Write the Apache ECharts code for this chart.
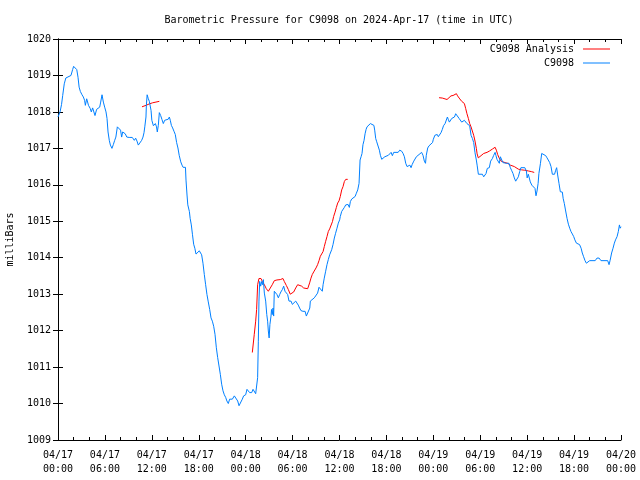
<!DOCTYPE html>
<html>
<head>
<meta charset="utf-8">
<script src="https://cdn.jsdelivr.net/npm/echarts@6/dist/echarts.min.js"></script>
<style>html,body{margin:0;padding:0;background:#fff}#c{width:640px;height:480px}</style>
</head>
<body>
<div id="c"></div>
<script>
// Hours since 2024-04-17 00:00 UTC
var stationHours = [0,0.26,0.45,0.6,0.8,1.0,1.2,1.66,1.87,2.0,2.2,2.4,2.56,2.7,2.86,3.07,3.24,3.4,3.5,3.67,3.8,3.9,4.13,4.26,4.43,4.56,4.73,4.94,5.16,5.33,5.46,5.63,5.8,5.97,6.14,6.27,6.4,6.56,6.7,6.9,7.07,7.25,7.4,7.59,7.84,8.0,8.14,8.27,8.44,8.6,8.8,9.1,9.5,9.76,9.93,10.1,10.27,10.5,10.7,10.87,11.0,11.1,11.25,11.3,11.4,11.55,11.68,11.85,11.9,12.0,12.2,12.32,12.45,12.6,12.7,12.83,12.96,13.13,13.3,13.47,13.64,13.8,14.1,14.24,14.36,14.5,14.66,14.83,15.0,15.17,15.34,15.5,15.7,15.86,16.0,16.3,16.37,16.5,16.6,16.8,16.9,17.05,17.2,17.35,17.5,17.65,17.9,18.07,18.24,18.37,18.54,18.71,18.88,19.05,19.2,19.4,19.57,19.74,19.91,20.08,20.25,20.42,20.59,20.76,20.93,21.1,21.27,21.44,21.6,21.78,21.95,22.3,22.55,22.8,22.98,23.15,23.4,23.57,23.74,24.0,24.17,24.34,24.51,24.77,24.94,25.1,25.28,25.45,25.53,25.62,25.7,25.79,25.92,26.05,26.17,26.26,26.39,26.56,26.7,26.81,26.9,27.0,27.1,27.24,27.3,27.4,27.5,27.58,27.66,27.84,28.0,28.18,28.35,28.5,28.7,28.86,29.03,29.2,29.37,29.54,29.8,29.97,30.18,30.4,30.56,30.73,30.9,31.07,31.33,31.6,31.76,32.0,32.2,32.27,32.5,32.78,33.0,33.2,33.38,33.6,33.8,33.9,34.05,34.23,34.4,34.57,34.74,34.9,35.0,35.17,35.34,35.5,35.68,35.85,36.02,36.1,36.28,36.45,36.62,36.8,36.96,37.1,37.26,37.39,37.56,37.8,38.0,38.16,38.33,38.5,38.63,38.76,38.88,39.0,39.14,39.27,39.4,39.52,39.7,39.95,40.2,40.4,40.5,40.63,40.76,40.97,41.1,41.23,41.4,41.65,41.8,42.0,42.25,42.4,42.6,42.76,42.93,43.5,43.7,43.83,43.96,44.13,44.3,44.47,44.64,44.8,45.0,45.15,45.3,45.5,45.66,45.83,46.0,46.17,46.34,46.5,46.68,46.85,47.0,47.1,47.28,47.45,47.7,47.9,48.0,48.2,48.5,48.64,48.8,48.98,49.15,49.3,49.5,49.67,49.8,49.9,50.05,50.2,50.35,50.52,50.7,50.86,51.0,51.1,51.3,51.46,51.63,51.8,51.97,52.14,52.3,52.48,52.65,52.82,53.0,53.16,53.33,53.5,53.6,53.76,54.27,54.44,54.57,54.74,54.9,55.16,55.33,55.55,55.7,55.9,56.0,56.14,56.3,56.44,56.57,56.74,56.9,57.08,57.34,57.5,57.68,57.85,58.0,58.19,58.36,58.53,58.7,58.87,59.04,59.2,59.7,59.9,60.0,60.15,60.28,60.4,60.6,60.83,61.0,61.13,61.26,61.4,61.5,61.7,61.86,62.0,62.1,62.37,62.54,62.7,62.88,63.05,63.22,63.5,63.65,63.77,63.9,64.07,64.24,64.5,64.6,64.75,64.9,65.1,65.27,65.44,65.6,65.78,65.95,66.1,66.3,66.55,66.7,66.9,67.05,67.2,67.4,67.57,67.7,67.8,68.0,68.7,68.93,69.2,69.44,70.3,70.47,70.6,70.8,70.98,71.15,71.3,71.5,71.66,71.8,71.9,72.0];
var stationPressure = [1017.86,1018.0,1018.2,1018.45,1018.77,1018.93,1018.98,1019.0,1019.16,1019.25,1019.25,1019.16,1018.95,1018.68,1018.56,1018.47,1018.41,1018.32,1018.18,1018.36,1018.41,1018.18,1018.09,1018.0,1018.11,1018.16,1017.9,1018.07,1018.1,1018.13,1018.27,1018.47,1018.27,1018.13,1018.0,1017.82,1017.45,1017.22,1017.09,1017.0,1017.1,1017.22,1017.31,1017.59,1017.6,1017.5,1017.31,1017.45,1017.47,1017.4,1017.31,1017.3,1017.3,1017.22,1017.28,1017.2,1017.09,1017.09,1017.22,1017.31,1017.43,1017.59,1017.86,1018.18,1018.47,1018.36,1018.29,1018.27,1018.04,1017.77,1017.62,1017.63,1017.68,1017.59,1017.45,1017.63,1017.98,1017.9,1017.79,1017.68,1017.77,1017.8,1017.8,1017.86,1017.77,1017.63,1017.56,1017.47,1017.38,1017.16,1017.01,1016.81,1016.63,1016.54,1016.48,1016.48,1016.13,1015.72,1015.45,1015.27,1015.08,1014.9,1014.63,1014.37,1014.26,1014.1,1014.1,1014.19,1014.19,1014.08,1013.85,1013.54,1013.26,1012.99,1012.81,1012.58,1012.35,1012.26,1012.12,1011.9,1011.53,1011.26,1011.03,1010.8,1010.53,1010.35,1010.24,1010.17,1010.07,1010.0,1010.12,1010.12,1010.21,1010.21,1010.07,1009.94,1009.94,1010.12,1010.21,1010.24,1010.39,1010.35,1010.3,1010.3,1010.39,1010.35,1010.27,1010.24,1010.71,1011.71,1012.81,1013.35,1013.22,1013.35,1013.26,1013.4,1013.03,1012.81,1012.44,1012.26,1011.99,1011.8,1012.17,1012.4,1012.58,1012.44,1012.62,1012.4,1013.08,1013.03,1012.99,1012.9,1012.99,1013.06,1013.13,1013.22,1013.08,1013.08,1012.99,1012.81,1012.81,1012.72,1012.72,1012.81,1012.76,1012.7,1012.62,1012.55,1012.53,1012.53,1012.4,1012.4,1012.62,1012.81,1012.83,1012.9,1012.92,1013.03,1013.19,1013.19,1013.08,1013.26,1013.44,1013.63,1013.81,1013.95,1014.08,1014.04,1014.22,1014.36,1014.54,1014.67,1014.81,1014.95,1015.04,1015.13,1015.27,1015.31,1015.38,1015.45,1015.49,1015.46,1015.38,1015.54,1015.61,1015.61,1015.68,1015.77,1015.86,1016.04,1016.68,1016.77,1016.86,1017.1,1017.22,1017.4,1017.52,1017.59,1017.63,1017.68,1017.68,1017.63,1017.5,1017.27,1017.18,1017.16,1016.95,1016.81,1016.7,1016.7,1016.77,1016.77,1016.81,1016.86,1016.89,1016.8,1016.89,1016.89,1016.95,1017.0,1016.92,1016.86,1016.77,1016.59,1016.5,1016.54,1016.54,1016.47,1016.56,1016.65,1016.7,1016.77,1016.8,1016.83,1016.86,1016.89,1016.81,1016.65,1016.59,1016.81,1017.01,1017.07,1017.09,1017.16,1017.25,1017.36,1017.38,1017.32,1017.32,1017.43,1017.52,1017.62,1017.68,1017.72,1017.86,1017.8,1017.72,1017.77,1017.82,1017.82,1017.86,1017.95,1017.98,1017.9,1017.82,1017.77,1017.72,1017.77,1017.77,1017.72,1017.68,1017.65,1017.62,1017.36,1017.27,1017.16,1016.88,1016.68,1016.54,1016.29,1016.29,1016.22,1016.18,1016.31,1016.45,1016.47,1016.65,1016.72,1016.8,1016.89,1016.81,1016.7,1016.65,1016.59,1016.77,1016.77,1016.61,1016.59,1016.59,1016.54,1016.59,1016.47,1016.4,1016.31,1016.19,1016.1,1016.1,1016.22,1016.36,1016.47,1016.47,1016.38,1016.19,1016.29,1016.29,1016.08,1015.99,1015.99,1015.9,1015.7,1015.83,1016.04,1016.31,1016.59,1016.86,1016.9,1016.81,1016.8,1016.74,1016.68,1016.61,1016.5,1016.29,1016.29,1016.4,1016.47,1016.27,1016.04,1015.81,1015.8,1015.63,1015.49,1015.31,1015.08,1014.92,1014.81,1014.72,1014.65,1014.58,1014.49,1014.4,1014.37,1014.36,1014.26,1014.13,1014.04,1013.92,1013.85,1013.81,1013.85,1013.92,1013.92,1013.99,1013.99,1013.92,1013.92,1013.81,1013.92,1014.13,1014.26,1014.4,1014.49,1014.58,1014.72,1014.9,1014.81,1014.85];
// Analysis series (null = gap between analysis runs)
var analysisHours = [10.74,11.25,11.68,12.1,12.53,12.96,null,24.85,25.02,25.1,25.28,25.4,25.53,25.7,25.96,26.13,26.39,26.64,26.9,27.15,27.4,27.66,28.0,28.43,28.77,28.94,29.2,29.45,29.7,29.88,30.14,30.4,30.65,30.9,31.16,31.42,31.67,31.93,32.18,32.35,32.52,32.7,32.86,33.0,33.2,33.38,33.55,33.72,33.9,34.06,34.23,34.4,34.57,34.74,34.9,35.1,35.25,35.43,35.6,35.77,35.94,36.1,36.28,36.45,36.62,36.8,37.05,null,48.73,49.15,49.4,49.75,50.0,50.26,50.52,50.77,50.95,51.1,51.3,51.46,51.63,51.8,51.97,52.14,52.3,52.48,52.65,52.82,53.0,53.16,53.33,53.5,53.6,53.75,54.1,54.44,54.87,55.2,55.55,55.9,56.06,56.23,56.4,56.66,56.9,57.17,57.5,57.85,58.1,58.36,58.6,58.87,59.3,59.7,60.15,60.58,60.9];
var analysisPressure = [1018.14,1018.18,1018.22,1018.25,1018.27,1018.29,null,1011.4,1011.4,1011.9,1012.26,1012.58,1013.26,1013.43,1013.43,1013.35,1013.26,1013.15,1013.08,1013.13,1013.26,1013.37,1013.39,1013.4,1013.43,1013.35,1013.24,1013.13,1013.0,1012.99,1013.06,1013.17,1013.26,1013.28,1013.22,1013.17,1013.15,1013.15,1013.31,1013.44,1013.54,1013.61,1013.64,1013.72,1013.81,1013.92,1014.04,1014.08,1014.17,1014.31,1014.45,1014.58,1014.72,1014.79,1014.83,1014.99,1015.13,1015.25,1015.38,1015.5,1015.56,1015.68,1015.86,1015.95,1016.09,1016.15,1016.15,null,1018.39,1018.38,1018.34,1018.34,1018.38,1018.44,1018.45,1018.49,1018.5,1018.44,1018.38,1018.34,1018.29,1018.25,1018.23,1018.09,1017.95,1017.82,1017.68,1017.59,1017.54,1017.36,1017.2,1017.0,1016.85,1016.74,1016.8,1016.86,1016.89,1016.93,1016.98,1017.03,1016.95,1016.83,1016.74,1016.65,1016.65,1016.61,1016.59,1016.54,1016.51,1016.5,1016.45,1016.43,1016.41,1016.4,1016.38,1016.36,1016.34];
var tickDates = ['04/17','04/17','04/17','04/17','04/18','04/18','04/18','04/18','04/19','04/19','04/19','04/19','04/20'];
var tickTimes = ['00:00','06:00','12:00','18:00','00:00','06:00','12:00','18:00','00:00','06:00','12:00','18:00','00:00'];
var titleText = 'Barometric Pressure for C9098 on 2024-Apr-17 (time in UTC)';
var seriesNames = ['C9098 Analysis', 'C9098'];

function pairs(xs, ys) {
  var out = [];
  for (var i = 0; i < xs.length; i++) out.push(xs[i] === null ? [null, null] : [xs[i], ys[i]]);
  return out;
}
var FONT = 'DejaVu Sans Mono';
var chart = echarts.init(document.getElementById('c'), null, {renderer: 'canvas'});
var axisLineStyle = {color: '#000', width: 1};
var legendText = {fontFamily: FONT, fontSize: 10, color: '#000', padding: [0, 4, 0, 0]};
chart.setOption({
  animation: false,
  backgroundColor: '#fff',
  title: {
    text: titleText, left: 334, top: 10, textAlign: 'center',
    textStyle: {fontFamily: FONT, fontSize: 10, fontWeight: 'normal', color: '#000'}
  },
  legend: [
    {data: [seriesNames[0]], right: 25, top: 39, align: 'right', icon: 'rect', itemWidth: 27, itemHeight: 1,
     itemGap: 0, textStyle: legendText, selectedMode: false},
    {data: [seriesNames[1]], right: 25, top: 53, align: 'right', icon: 'rect', itemWidth: 27, itemHeight: 1,
     itemGap: 0, textStyle: legendText, selectedMode: false}
  ],
  grid: {left: 58, right: 19, top: 39, bottom: 40, containLabel: false, outerBoundsMode: 'none'},
  xAxis: [
    {type: 'value', min: 0, max: 72, interval: 6, position: 'bottom',
     axisLine: {onZero: false, lineStyle: axisLineStyle},
     axisTick: {inside: true, length: 5, lineStyle: axisLineStyle},
     minorTick: {show: true, splitNumber: 3, length: 3, lineStyle: axisLineStyle},
     splitLine: {show: false},
     axisLabel: {margin: 8, fontFamily: FONT, fontSize: 10, color: '#000', lineHeight: 14,
       formatter: function (v) { var i = Math.round(v / 6); return tickDates[i] + '\n' + tickTimes[i]; }}},
    {type: 'value', min: 0, max: 72, interval: 6, position: 'top',
     axisLine: {onZero: false, lineStyle: axisLineStyle},
     axisTick: {inside: true, length: 5, lineStyle: axisLineStyle},
     minorTick: {show: true, splitNumber: 3, length: 3, lineStyle: axisLineStyle},
     splitLine: {show: false}, axisLabel: {show: false}}
  ],
  yAxis: [
    {type: 'value', min: 1009, max: 1020, interval: 1, position: 'left',
     name: 'milliBars', nameLocation: 'middle', nameGap: 43, nameRotate: 90,
     nameTextStyle: {fontFamily: FONT, fontSize: 10, color: '#000'},
     axisLine: {show: true, lineStyle: axisLineStyle},
     axisTick: {inside: true, length: 5, lineStyle: axisLineStyle},
     splitLine: {show: false},
     axisLabel: {margin: 7, fontFamily: FONT, fontSize: 10, color: '#000',
       formatter: function (v) { return String(v); }}},
    {type: 'value', min: 1009, max: 1020, interval: 1, position: 'right',
     axisLine: {show: true, lineStyle: axisLineStyle},
     axisTick: {inside: true, length: 5, lineStyle: axisLineStyle},
     splitLine: {show: false}, axisLabel: {show: false}}
  ],
  series: [
    {name: seriesNames[0], type: 'line', data: pairs(analysisHours, analysisPressure),
     symbol: 'none', connectNulls: false, color: '#ff0000',
     lineStyle: {width: 1, color: '#ff0000'}},
    {name: seriesNames[1], type: 'line', data: pairs(stationHours, stationPressure),
     symbol: 'none', color: '#0080ff',
     lineStyle: {width: 1, color: '#0080ff'}}
  ]
});
</script>
</body>
</html>
